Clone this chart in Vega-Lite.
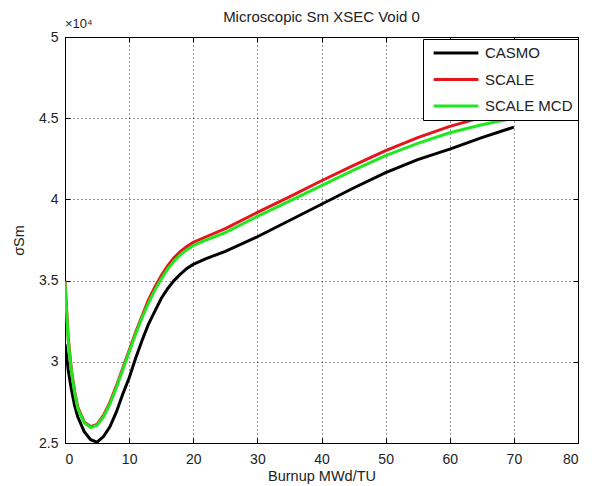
{
  "$schema": "https://vega.github.io/schema/vega-lite/v6.json",
  "autosize": {"type": "none"},
  "width": 513,
  "height": 406,
  "padding": {"left": 65, "top": 37, "right": 21, "bottom": 43},
  "background": "white",
  "config": {
    "font": "Liberation Sans",
    "view": {"stroke": "black", "strokeWidth": 1},
    "axis": {
      "labelFont": "Liberation Sans",
      "titleFont": "Liberation Sans",
      "labelFontSize": 14,
      "titleFontSize": 14.5,
      "labelColor": "#222",
      "titleColor": "#222",
      "titleFontWeight": "normal",
      "domain": false,
      "gridColor": "#000",
      "gridDash": [1, 3],
      "gridOpacity": 0.8,
      "ticks": true,
      "tickColor": "#000",
      "tickSize": -5
    }
  },
  "title": {
    "text": "Microscopic Sm XSEC Void 0",
    "fontSize": 15,
    "fontWeight": "normal",
    "font": "Liberation Sans",
    "color": "#222",
    "anchor": "middle",
    "offset": -7
  },
  "resolve": {"axis": {"x": "independent", "y": "independent"}},
  "datasets": {
    "curves": [
      {"series": "CASMO", "burnup": 0, "xs": 31100},
      {"series": "CASMO", "burnup": 0.5, "xs": 29500},
      {"series": "CASMO", "burnup": 1, "xs": 28300},
      {"series": "CASMO", "burnup": 1.5, "xs": 27300},
      {"series": "CASMO", "burnup": 2, "xs": 26600},
      {"series": "CASMO", "burnup": 3, "xs": 25700},
      {"series": "CASMO", "burnup": 4, "xs": 25200},
      {"series": "CASMO", "burnup": 5, "xs": 25050},
      {"series": "CASMO", "burnup": 6, "xs": 25400},
      {"series": "CASMO", "burnup": 7, "xs": 26000},
      {"series": "CASMO", "burnup": 8, "xs": 26900},
      {"series": "CASMO", "burnup": 9, "xs": 28000},
      {"series": "CASMO", "burnup": 10, "xs": 29000},
      {"series": "CASMO", "burnup": 11, "xs": 30200},
      {"series": "CASMO", "burnup": 12, "xs": 31300},
      {"series": "CASMO", "burnup": 13, "xs": 32300},
      {"series": "CASMO", "burnup": 14, "xs": 33100},
      {"series": "CASMO", "burnup": 15, "xs": 33900},
      {"series": "CASMO", "burnup": 16, "xs": 34500},
      {"series": "CASMO", "burnup": 17, "xs": 35000},
      {"series": "CASMO", "burnup": 18, "xs": 35400},
      {"series": "CASMO", "burnup": 19, "xs": 35750},
      {"series": "CASMO", "burnup": 20, "xs": 36000},
      {"series": "CASMO", "burnup": 22, "xs": 36350},
      {"series": "CASMO", "burnup": 25, "xs": 36800},
      {"series": "CASMO", "burnup": 30, "xs": 37700},
      {"series": "CASMO", "burnup": 35, "xs": 38700},
      {"series": "CASMO", "burnup": 40, "xs": 39700},
      {"series": "CASMO", "burnup": 45, "xs": 40700},
      {"series": "CASMO", "burnup": 50, "xs": 41650},
      {"series": "CASMO", "burnup": 55, "xs": 42450},
      {"series": "CASMO", "burnup": 60, "xs": 43100},
      {"series": "CASMO", "burnup": 65, "xs": 43800},
      {"series": "CASMO", "burnup": 70, "xs": 44450},
      {"series": "SCALE", "burnup": 0, "xs": 35000},
      {"series": "SCALE", "burnup": 0.5, "xs": 31500},
      {"series": "SCALE", "burnup": 1, "xs": 29500},
      {"series": "SCALE", "burnup": 1.5, "xs": 28200},
      {"series": "SCALE", "burnup": 2, "xs": 27200},
      {"series": "SCALE", "burnup": 3, "xs": 26300},
      {"series": "SCALE", "burnup": 4, "xs": 26000},
      {"series": "SCALE", "burnup": 5, "xs": 26150},
      {"series": "SCALE", "burnup": 6, "xs": 26700},
      {"series": "SCALE", "burnup": 7, "xs": 27500},
      {"series": "SCALE", "burnup": 8, "xs": 28500},
      {"series": "SCALE", "burnup": 9, "xs": 29600},
      {"series": "SCALE", "burnup": 10, "xs": 30700},
      {"series": "SCALE", "burnup": 11, "xs": 31800},
      {"series": "SCALE", "burnup": 12, "xs": 32800},
      {"series": "SCALE", "burnup": 13, "xs": 33800},
      {"series": "SCALE", "burnup": 14, "xs": 34600},
      {"series": "SCALE", "burnup": 15, "xs": 35300},
      {"series": "SCALE", "burnup": 16, "xs": 35900},
      {"series": "SCALE", "burnup": 17, "xs": 36400},
      {"series": "SCALE", "burnup": 18, "xs": 36800},
      {"series": "SCALE", "burnup": 19, "xs": 37100},
      {"series": "SCALE", "burnup": 20, "xs": 37350},
      {"series": "SCALE", "burnup": 22, "xs": 37700},
      {"series": "SCALE", "burnup": 25, "xs": 38200},
      {"series": "SCALE", "burnup": 30, "xs": 39200},
      {"series": "SCALE", "burnup": 35, "xs": 40150},
      {"series": "SCALE", "burnup": 40, "xs": 41150},
      {"series": "SCALE", "burnup": 45, "xs": 42100},
      {"series": "SCALE", "burnup": 50, "xs": 43000},
      {"series": "SCALE", "burnup": 55, "xs": 43800},
      {"series": "SCALE", "burnup": 60, "xs": 44500},
      {"series": "SCALE", "burnup": 65, "xs": 45050},
      {"series": "SCALE", "burnup": 70, "xs": 45450},
      {"series": "SCALE MCD", "burnup": 0, "xs": 34900},
      {"series": "SCALE MCD", "burnup": 0.5, "xs": 31300},
      {"series": "SCALE MCD", "burnup": 1, "xs": 29400},
      {"series": "SCALE MCD", "burnup": 1.5, "xs": 28100},
      {"series": "SCALE MCD", "burnup": 2, "xs": 27100},
      {"series": "SCALE MCD", "burnup": 3, "xs": 26250},
      {"series": "SCALE MCD", "burnup": 4, "xs": 25950},
      {"series": "SCALE MCD", "burnup": 5, "xs": 26100},
      {"series": "SCALE MCD", "burnup": 6, "xs": 26600},
      {"series": "SCALE MCD", "burnup": 7, "xs": 27400},
      {"series": "SCALE MCD", "burnup": 8, "xs": 28400},
      {"series": "SCALE MCD", "burnup": 9, "xs": 29500},
      {"series": "SCALE MCD", "burnup": 10, "xs": 30600},
      {"series": "SCALE MCD", "burnup": 11, "xs": 31700},
      {"series": "SCALE MCD", "burnup": 12, "xs": 32700},
      {"series": "SCALE MCD", "burnup": 13, "xs": 33600},
      {"series": "SCALE MCD", "burnup": 14, "xs": 34400},
      {"series": "SCALE MCD", "burnup": 15, "xs": 35100},
      {"series": "SCALE MCD", "burnup": 16, "xs": 35700},
      {"series": "SCALE MCD", "burnup": 17, "xs": 36200},
      {"series": "SCALE MCD", "burnup": 18, "xs": 36600},
      {"series": "SCALE MCD", "burnup": 19, "xs": 36900},
      {"series": "SCALE MCD", "burnup": 20, "xs": 37150},
      {"series": "SCALE MCD", "burnup": 22, "xs": 37500},
      {"series": "SCALE MCD", "burnup": 25, "xs": 37950},
      {"series": "SCALE MCD", "burnup": 30, "xs": 38950},
      {"series": "SCALE MCD", "burnup": 35, "xs": 39900},
      {"series": "SCALE MCD", "burnup": 40, "xs": 40850},
      {"series": "SCALE MCD", "burnup": 45, "xs": 41800},
      {"series": "SCALE MCD", "burnup": 50, "xs": 42700},
      {"series": "SCALE MCD", "burnup": 55, "xs": 43450},
      {"series": "SCALE MCD", "burnup": 60, "xs": 44100},
      {"series": "SCALE MCD", "burnup": 65, "xs": 44600},
      {"series": "SCALE MCD", "burnup": 70, "xs": 45000}
    ],
    "note": [{"burnup": 0, "xs": 50000, "label": "×10⁴"}]
  },
  "layer": [
    {
      "data": {"name": "curves"},
      "mark": {"type": "line", "strokeWidth": 3, "clip": true},
      "encoding": {
        "x": {
          "field": "burnup",
          "type": "quantitative",
          "scale": {"domain": [0, 80], "nice": false, "zero": false},
          "axis": {"values": [0, 10, 20, 30, 40, 50, 60, 70, 80], "title": "Burnup MWd/TU", "labelPadding": 14, "titlePadding": 3, "grid": true}
        },
        "y": {
          "field": "xs",
          "type": "quantitative",
          "scale": {"domain": [25000, 50000], "nice": false, "zero": false},
          "axis": {
            "values": [25000, 30000, 35000, 40000, 45000, 50000],
            "labelExpr": "format(datum.value / 10000, '.2~f')",
            "title": "σSm",
            "labelPadding": 12,
            "titlePadding": 12,
            "grid": true
          }
        },
        "color": {
          "field": "series",
          "type": "nominal",
          "scale": {"domain": ["CASMO", "SCALE", "SCALE MCD"], "range": ["#000000", "#e8141c", "#1ee81e"]},
          "legend": {
            "title": null,
            "orient": "none",
            "legendX": 358,
            "legendY": 2,
            "symbolType": "stroke",
            "symbolSize": 2000,
            "symbolStrokeWidth": 3,
            "symbolOffset": 4,
            "labelFontSize": 15,
            "labelFont": "Liberation Sans",
            "labelColor": "#222",
            "fillColor": "white",
            "strokeColor": "black",
            "padding": 5,
            "clipHeight": 18,
            "rowPadding": 8.5,
            "labelOffset": 5,
            "cornerRadius": 0
          }
        },
        "order": {"field": "burnup", "type": "quantitative"}
      }
    },
    {
      "data": {"name": "note"},
      "mark": {"type": "text", "align": "left", "baseline": "bottom", "dy": -6, "fontSize": 13, "font": "Liberation Sans", "color": "#222"},
      "encoding": {
        "x": {
          "field": "burnup",
          "type": "quantitative",
          "axis": {"orient": "top", "values": [0, 10, 20, 30, 40, 50, 60, 70, 80], "labels": false, "title": null, "grid": false}
        },
        "y": {
          "field": "xs",
          "type": "quantitative",
          "axis": {"orient": "right", "values": [25000, 30000, 35000, 40000, 45000, 50000], "labels": false, "title": null, "grid": false}
        },
        "text": {"field": "label"}
      }
    }
  ]
}
